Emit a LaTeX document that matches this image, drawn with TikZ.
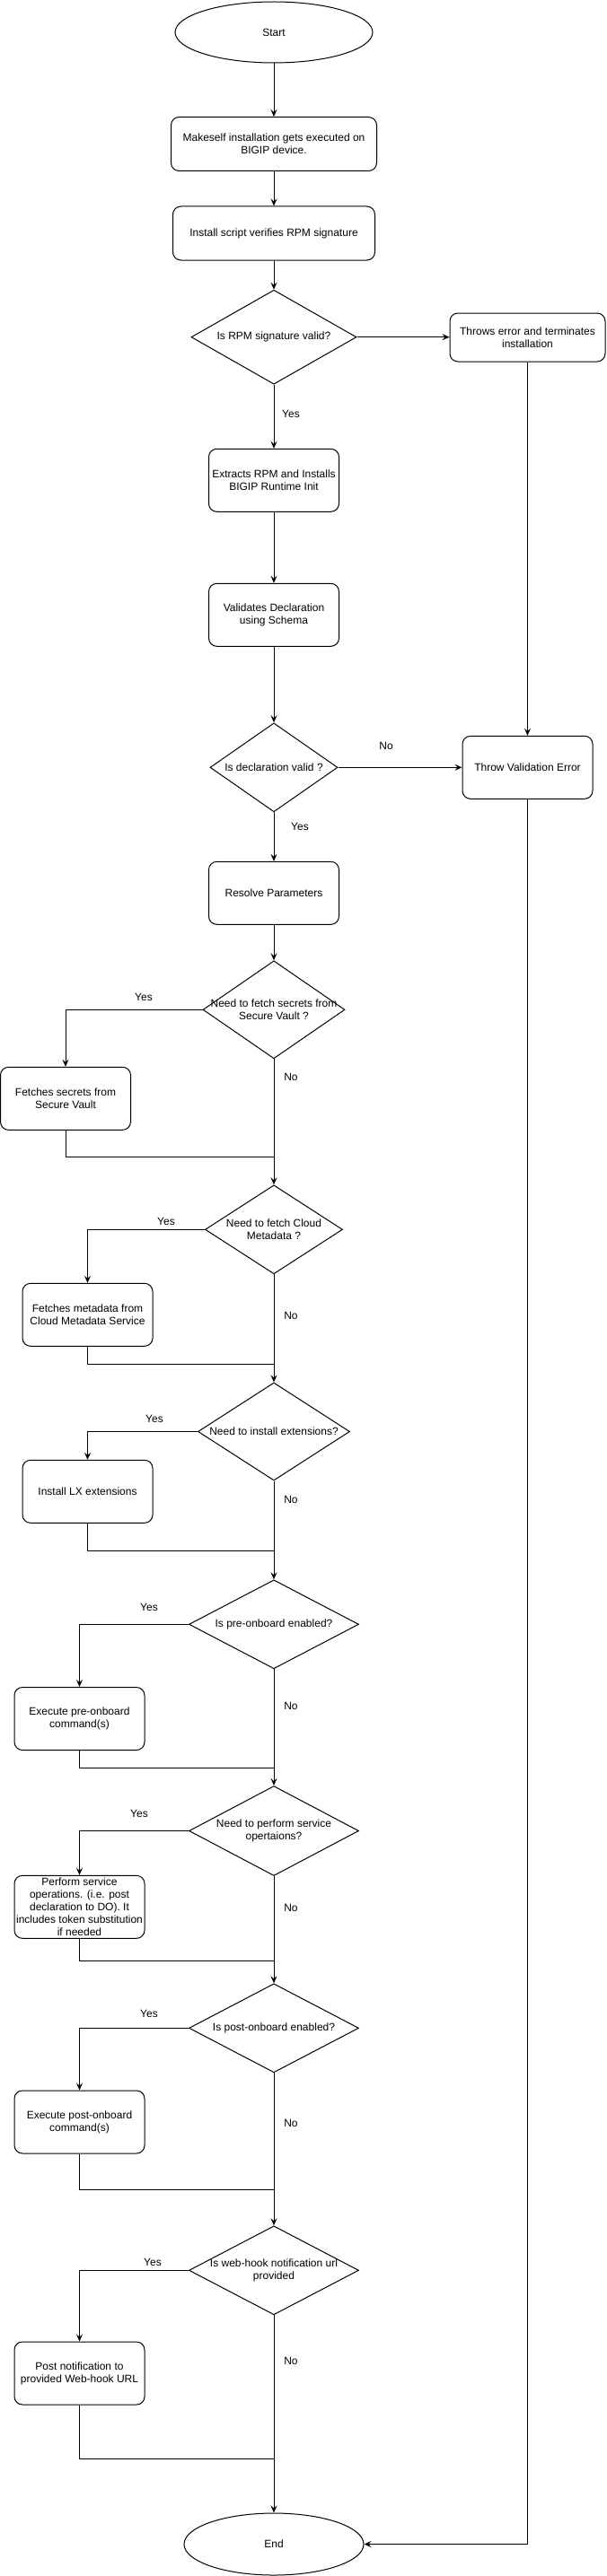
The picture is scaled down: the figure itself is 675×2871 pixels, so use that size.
\documentclass[tikz,border=0pt]{standalone}
\usepackage{fontspec}
\setmainfont{Liberation Sans}
\usetikzlibrary{shapes.geometric,arrows.meta}
\begin{document}
\begin{tikzpicture}[x=1pt,y=-1pt,
  every node/.style={font=\fontsize{12}{14}\selectfont, inner sep=0pt},
  box/.style={draw, rounded corners=9pt, minimum width=145pt, minimum height=70pt, align=center, line width=1pt},
  dia/.style={draw, diamond, line width=1pt},
  oval/.style={draw, ellipse, line width=1pt},
  txt/.style={align=center},
  arr/.style={draw, line width=1pt, -{Stealth[length=8pt,width=7pt,inset=3pt]}},
  ln/.style={draw, line width=1pt}]
\useasboundingbox (0,0) rectangle (675,2871);

% main column
\node[oval, minimum width=220pt, minimum height=68pt] (start) at (305,36) {Start};
\node[box, minimum width=229pt, minimum height=60pt] (n1) at (305,160.5) {Makeself installation gets executed on\\BIGIP device.};
\node[box, minimum width=225pt, minimum height=60pt] (n2) at (305,260) {Install script verifies RPM signature};
\node[dia, minimum width=184pt, minimum height=105pt] (d1) at (305,375.7) {};
\node[txt] (t1) at (d1.center) {Is RPM signature valid?};
\node[box, minimum width=173pt, minimum height=54pt] (e1) at (587.5,376) {Throws error and terminates\\installation};
\node[box] (n3) at (305,535.3) {Extracts RPM and Installs\\BIGIP Runtime Init};
\node[box] (n4) at (305,685.3) {Validates Declaration\\using Schema};
\node[dia, minimum width=142pt, minimum height=99pt] (d2) at (305,855.3) {};
\node[txt] (t2) at (d2.center) {Is declaration valid ?};
\node[box] (e2) at (587.5,855.3) {Throw Validation Error};
\node[box] (n5) at (305,995.3) {Resolve Parameters};
\node[dia, minimum width=158pt, minimum height=109pt] (d3) at (305,1125.3) {};
\node[txt] (t3) at (d3.center) {Need to fetch secrets from\\Secure Vault ?};
\node[box] (s1) at (73,1224.3) {Fetches secrets from\\Secure Vault};
\node[dia, minimum width=153pt, minimum height=99pt] (d4) at (305,1370.3) {};
\node[txt] (t4) at (d4.center) {Need to fetch Cloud\\Metadata ?};
\node[box] (s2) at (97.5,1465.3) {Fetches metadata from\\Cloud Metadata Service};
\node[dia, minimum width=169pt, minimum height=109pt] (d5) at (305,1595.5) {};
\node[txt] (t5) at (d5.center) {Need to install extensions?};
\node[box] (s3) at (97.5,1662.3) {Install LX extensions};
\node[dia, minimum width=189pt, minimum height=99pt] (d6) at (305,1810.3) {};
\node[txt] (t6) at (d6.center) {Is pre-onboard enabled?};
\node[box] (s4) at (88.5,1915.5) {Execute pre-onboard\\command(s)};
\node[dia, minimum width=189pt, minimum height=100pt] (d7) at (305,2040.5) {};
\node[txt] (t7) at (d7.center) {Need to perform service\\opertaions?};
\node[box] (s5) at (88.5,2125.3) {Perform service\\operations. (i.e. post\\declaration to DO). It\\includes token substitution\\if needed};
\node[dia, minimum width=189pt, minimum height=99pt] (d8) at (305,2260.3) {};
\node[txt] (t8) at (d8.center) {Is post-onboard enabled?};
\node[box] (s6) at (88.5,2365) {Execute post-onboard\\command(s)};
\node[dia, minimum width=189pt, minimum height=99pt] (d9) at (305,2530.3) {};
\node[txt] (t9) at (d9.center) {Is web-hook notification url\\provided};
\node[box] (s7) at (88.5,2645) {Post notification to\\provided Web-hook URL};
\node[oval, minimum width=200pt, minimum height=69pt] (end) at (305,2835.5) {End};

% merge points
\coordinate (m1) at (305,1289.7);
\coordinate (m2) at (305,1520);
\coordinate (m3) at (305,1728.3);
\coordinate (m4) at (305,1970.3);
\coordinate (m5) at (305,2185.3);
\coordinate (m6) at (305,2440.3);
\coordinate (m7) at (305,2740);

% main flow
\draw[arr] (start) -- (n1);
\draw[arr] (n1) -- (n2);
\draw[arr] (n2) -- (d1);
\draw[arr] (d1) -- (n3);
\draw[arr] (n3) -- (n4);
\draw[arr] (n4) -- (d2);
\draw[arr] (d2) -- (n5);
\draw[arr] (n5) -- (d3);
\draw[arr] (d3.south) -- (d4.north);
\draw[arr] (d4.south) -- (d5.north);
\draw[arr] (d5.south) -- (d6.north);
\draw[arr] (d6.south) -- (d7.north);
\draw[arr] (d7.south) -- (d8.north);
\draw[arr] (d8.south) -- (d9.north);
\draw[arr] (d9.south) -- (end.north);

% error path
\draw[arr] (d1.east) -- (d1.east -| e1.west);
\draw[arr] (e1.south) -- (e2.north);
\draw[arr] (d2.east) -- (e2.west);
\draw[arr] (e2.south) |- (end.east);

% yes branches
\draw[arr] (d3.west) -| (s1.north);
\draw[arr] (d4.west) -| (s2.north);
\draw[arr] (d5.west) -| (s3.north);
\draw[arr] (d6.west) -| (s4.north);
\draw[arr] (d7.west) -| (s5.north);
\draw[arr] (d8.west) -| (s6.north);
\draw[arr] (d9.west) -| (s7.north);

% returns
\draw[ln] (s1.south) |- (m1);
\draw[ln] (s2.south) |- (m2);
\draw[ln] (s3.south) |- (m3);
\draw[ln] (s4.south) |- (m4);
\draw[ln] (s5.south) |- (m5);
\draw[ln] (s6.south) |- (m6);
\draw[ln] (s7.south) |- (m7);

% labels
\node (y1) at (324,461) {Yes};
\node (no2) at (430,831) {No};
\node (y2) at (334,921) {Yes};
\node (y3) at (160,1111) {Yes};
\node (no3) at (324,1200) {No};
\node (y4) at (185,1361) {Yes};
\node (no4) at (324,1466) {No};
\node (y5) at (172,1581) {Yes};
\node (no5) at (324,1671) {No};
\node (y6) at (166,1791) {Yes};
\node (no6) at (324,1901) {No};
\node (y7) at (155,2021) {Yes};
\node (no7) at (324,2126) {No};
\node (y8) at (166,2244) {Yes};
\node (no8) at (324,2366) {No};
\node (y9) at (170,2521) {Yes};
\node (no9) at (324,2631) {No};
\end{tikzpicture}
\end{document}
